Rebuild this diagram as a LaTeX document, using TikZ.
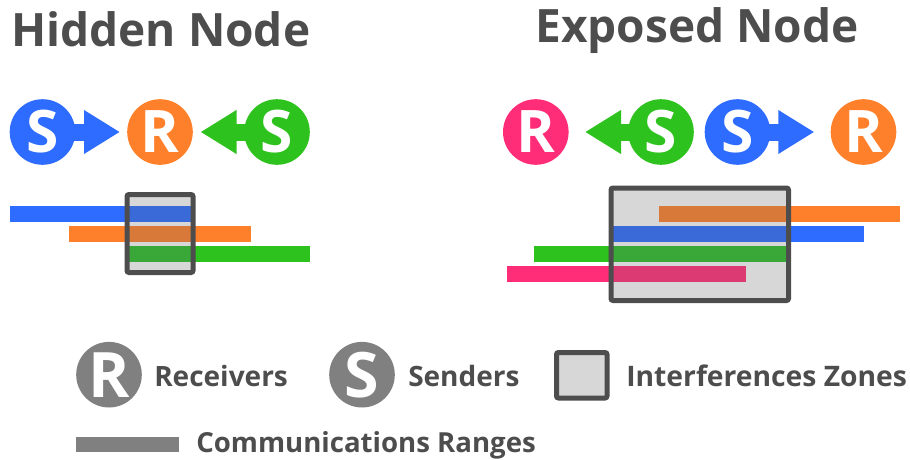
\documentclass[tikz,border=0pt]{standalone}
\usepackage{fontspec}
\setmainfont{Open Sans}
\usetikzlibrary{arrows.meta}
\definecolor{cblue}{HTML}{2D6CFF}
\definecolor{corange}{HTML}{FF802B}
\definecolor{cgreen}{HTML}{2EC21E}
\definecolor{cpink}{HTML}{FF2D78}
\definecolor{oblue}{HTML}{3A6AD8}
\definecolor{oorange}{HTML}{D8793A}
\definecolor{ogreen}{HTML}{3AA838}
\definecolor{opink}{HTML}{DB3A72}
\definecolor{ctext}{HTML}{4D4D4D}
\definecolor{cgrey}{HTML}{808080}
\definecolor{czone}{HTML}{D7D7D7}
\tikzset{
  x=0.75pt,y=-0.75pt,
  station/.style={circle,fill=#1,text=white,inner sep=0pt,minimum size=49.2pt,font=\fontsize{44}{44}\selectfont\bfseries},
  legendstation/.style={station=#1,font=\fontsize{47}{47}\selectfont\bfseries},
  heading/.style={anchor=base west,inner sep=0pt,text=ctext,font=\fontsize{34.5}{34.5}\selectfont\bfseries},
  legendtext/.style={anchor=base west,inner sep=0pt,text=ctext,font=\fontsize{21}{21}\selectfont\bfseries},
  signal/.style={draw=#1,line width=12.75pt,shorten <=-2pt,-{Triangle[length=27pt,width=31pt]},color=#1},
  zone/.style={draw=ctext,line width=3.75pt,rounded corners=1.5pt},
}
\begin{document}
\begin{tikzpicture}
\useasboundingbox (0,0) rectangle (910,460);
% titles
\node[heading] (t1) at (11,47) {Hidden Node};
\node[heading] (t2) at (535,43) {Exposed Node};
% hidden node stations
\node[station=cblue] (hs1) at (42.5,132) {S};
\node[station=corange] (hr) at (160,132) {R};
\node[station=cgreen] (hs2) at (277,132) {S};
\coordinate (ha1) at (120,132);
\coordinate (ha2) at (200.5,132);
\draw[signal=cblue] (hs1) -- (ha1);
\draw[signal=cgreen] (hs2) -- (ha2);
% hidden ranges
\fill[cblue] (10,206) rectangle (127,222);
\fill[corange] (69,226) rectangle (251,242);
\fill[cgreen] (127,246) rectangle (310,262);
\fill[czone] (127,194.5) rectangle (193,272.5);
\fill[oblue] (127,206) rectangle (193,222);
\fill[oorange] (127,226) rectangle (193,242);
\fill[ogreen] (127,246) rectangle (193,262);
\draw[zone] (127,194.5) rectangle (193,272.5);
% exposed node stations
\node[station=cpink] (er1) at (535.8,132) {R};
\node[station=cgreen] (es1) at (661,132) {S};
\node[station=cblue] (es2) at (737.5,132) {S};
\node[station=corange] (er2) at (863.5,132) {R};
\coordinate (ea1) at (585,132);
\coordinate (ea2) at (814.3,132);
\draw[signal=cgreen] (es1) -- (ea1);
\draw[signal=cblue] (es2) -- (ea2);
% exposed ranges
\fill[corange] (788,206) rectangle (900,222);
\fill[cblue] (788,226) rectangle (864.3,242);
\fill[cgreen] (534.3,246) rectangle (611,262);
\fill[cpink] (507,265.5) rectangle (611,281.7);
\fill[czone] (611,188) rectangle (788.5,300.5);
\fill[oorange] (659.3,206) rectangle (788.5,222);
\fill[oblue] (611,226) rectangle (788.5,242);
\fill[ogreen] (611,246) rectangle (788.5,262);
\fill[opink] (611,265.5) rectangle (745.7,281.7);
\draw[zone] (611,188) rectangle (788.5,300.5);
% legend
\node[legendstation=cgrey] (lr) at (109,374.7) {R};
\node[legendtext] (lrt) at (154,386) {Receivers};
\node[legendstation=cgrey] (ls) at (362,374.7) {S};
\node[legendtext] (lst) at (408,386) {Senders};
\fill[czone] (556.5,352.5) rectangle (607,398);
\draw[zone] (556.5,352.5) rectangle (607,398);
\node[legendtext,font=\fontsize{21.2}{21.2}\selectfont\bfseries] (lzt) at (626,386) {Interferences Zones};
\fill[cgrey] (76,437) rectangle (179,452);
\node[legendtext,font=\fontsize{20.7}{20.7}\selectfont\bfseries] (lct) at (196,452) {Communications Ranges};
\end{tikzpicture}
\end{document}
